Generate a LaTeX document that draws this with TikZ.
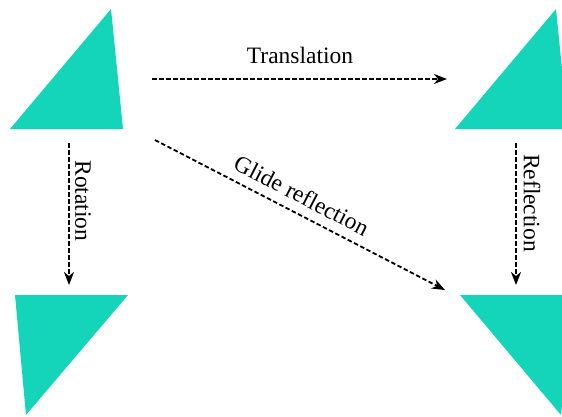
\documentclass[tikz,border=0pt]{standalone}
\usepackage{fontspec}
\setmainfont{Liberation Serif}
\usetikzlibrary{arrows.meta}
\definecolor{teal1}{RGB}{20,212,186}
\begin{document}
\begin{tikzpicture}[x=1pt,y=-1pt,
  tri/.style={fill=teal1,draw=none},
  conn/.style={line width=1.8pt,dash pattern=on 4.5pt off 2.5pt,-{Stealth[length=13pt,width=10pt,inset=4pt]}},
  lbl/.style={font=\fontsize{23.5}{28}\selectfont,inner sep=0pt}]
\useasboundingbox (0,0) rectangle (562,416);
% triangles
\fill[tri] (111,9) -- (10,129) -- (123,129) -- cycle;
\fill[tri] (556,9) -- (455,129) -- (568,129) -- cycle;
\fill[tri] (15,295) -- (128,295) -- (26,415) -- cycle;
\fill[tri] (460,295) -- (573,295) -- (561,415) -- cycle;
% connector ends
\coordinate (t1) at (152,79);
\coordinate (t2) at (447,79);
\coordinate (r1) at (69,143);
\coordinate (r2) at (69,285);
\coordinate (f1) at (516,143);
\coordinate (f2) at (516,285);
\coordinate (g1) at (155,140);
\coordinate (g2) at (445,290);
% connectors
\draw[conn] (t1) -- (t2);
\draw[conn] (r1) -- (r2);
\draw[conn] (f1) -- (f2);
\draw[conn] (g1) -- (g2) node[lbl,pos=0.477,sloped,above=9pt] (gl) {Glide reflection};
% labels
\node[lbl,anchor=base] (tl) at (300,63) {Translation};
\node[lbl,rotate=-90] (rl) at (83,201) {Rotation};
\node[lbl,rotate=-90] (fl) at (532,203) {Reflection};
\end{tikzpicture}
\end{document}
